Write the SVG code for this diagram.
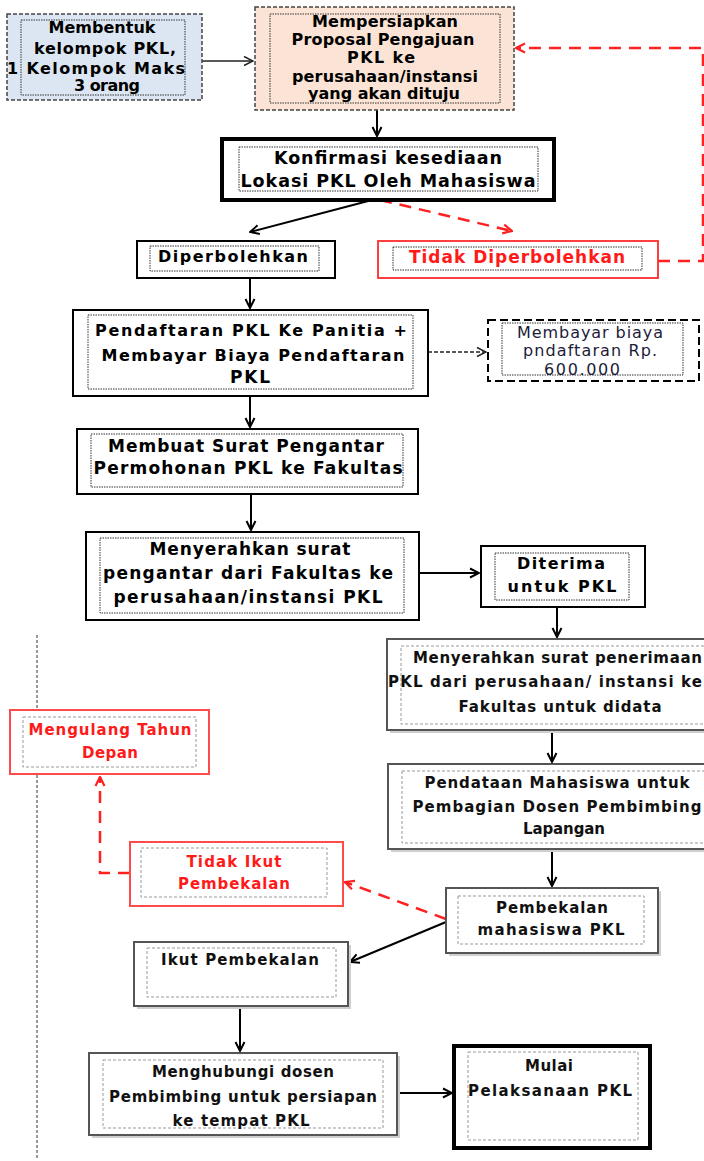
<svg xmlns="http://www.w3.org/2000/svg" width="704" height="1161" viewBox="0 0 704 1161">
<defs>
<style>
.t{font-family:"DejaVu Sans","Liberation Sans",sans-serif;font-weight:bold;fill:#000;text-anchor:middle;font-size:16px}
.s14{font-size:15px;fill:#111}
.s17{font-size:17px}
.s175{font-size:17.5px}
.red{fill:#ff1a1a}
.reg{font-weight:normal;fill:#1c1c3a;font-size:16px}
.box{fill:#fff;stroke:#000;stroke-width:2}
.thick{stroke-width:4}
.inner{fill:none;stroke:#333;stroke-width:1;stroke-dasharray:1.5 1}
.gbox{fill:#fff;stroke:#555;stroke-width:2}
.ginner{fill:none;stroke:#999;stroke-width:1;stroke-dasharray:3 2}
.rbox{fill:#fff;stroke:#ff4a4a;stroke-width:2}
.shadow{fill:#cfcfcf}
.c{fill:none;stroke:#000;stroke-width:2}
.cthin{fill:none;stroke:#222;stroke-width:1.3}
.cr{fill:none;stroke:#ff2020;stroke-width:2.5;stroke-dasharray:12 8}
</style>
<marker id="a" viewBox="0 0 12 12" refX="11" refY="6" markerWidth="12" markerHeight="12" orient="auto" markerUnits="userSpaceOnUse"><path d="M2,1.5 L11,6 L2,10.5" fill="none" stroke="#000" stroke-width="2"/></marker>
<marker id="at" viewBox="0 0 12 12" refX="11" refY="6" markerWidth="12" markerHeight="12" orient="auto" markerUnits="userSpaceOnUse"><path d="M2,1.5 L11,6 L2,10.5" fill="none" stroke="#222" stroke-width="1.4"/></marker>
<marker id="ar" viewBox="0 0 12 12" refX="11" refY="6" markerWidth="12" markerHeight="12" orient="auto" markerUnits="userSpaceOnUse"><path d="M2,1.5 L11,6 L2,10.5" fill="none" stroke="#ff2020" stroke-width="2.2"/></marker>
</defs>
<rect width="704" height="1161" fill="#fff"/>
<line x1="37" y1="635" x2="37" y2="1160" stroke="#777" stroke-width="1.5" stroke-dasharray="3 2"/>

<g id="connectors">
<path class="cthin" d="M202,61 L253,61" marker-end="url(#at)"/>
<path class="c" d="M377,110 L377,136" marker-end="url(#a)"/>
<path class="c" d="M372,200 L250,232" marker-end="url(#a)"/>
<path class="cr" d="M380,200 L512,231" marker-end="url(#ar)"/>
<path class="cr" d="M658,261 L703,261 L703,48 L516,48" marker-end="url(#ar)"/>
<path class="c" d="M250,278 L250,308" marker-end="url(#a)"/>
<path class="cthin" stroke-dasharray="4 2" d="M428,352 L486,352" marker-end="url(#at)"/>
<path class="c" d="M250,396 L250,427" marker-end="url(#a)"/>
<path class="c" d="M251,494 L251,530" marker-end="url(#a)"/>
<path class="c" d="M419,573 L479,573" marker-end="url(#a)"/>
<path class="c" d="M557,607 L557,637" marker-end="url(#a)"/>
<path class="c" d="M552,730 L552,762" marker-end="url(#a)"/>
<path class="c" d="M552,849 L552,886" marker-end="url(#a)"/>
<path class="c" d="M446,922 L350,962" marker-end="url(#a)"/>
<path class="cr" d="M446,919 L345,882" marker-end="url(#ar)"/>
<path class="cr" d="M130,873 L100,873 L100,777" marker-end="url(#ar)"/>
<path class="c" d="M240,1006 L240,1051" marker-end="url(#a)"/>
<path class="c" stroke-width="3" d="M397,1093 L452,1093" marker-end="url(#a)"/>
</g>

<g id="n1">
<rect x="7" y="14" width="195" height="86" fill="#dce6f2" stroke="#444" stroke-width="1.5" stroke-dasharray="4 2"/>
<rect class="inner" x="21" y="20" width="164" height="75"/>
<text class="t" x="102" y="33" textLength="107">Membentuk</text>
<text class="t" x="105" y="54" textLength="142">kelompok PKL,</text>
<text class="t" x="96" y="74" textLength="178">1 Kelompok Maks</text>
<text class="t" x="107" y="91" textLength="66">3 orang</text>
</g>

<g id="n2">
<rect x="255" y="7" width="259" height="103" fill="#fbe4d5" stroke="#444" stroke-width="1.5" stroke-dasharray="4 2"/>
<rect class="inner" x="270" y="14" width="230" height="89"/>
<text class="t" x="385" y="27" textLength="146">Mempersiapkan</text>
<text class="t" x="383" y="45" textLength="183">Proposal Pengajuan</text>
<text class="t" x="381" y="63" textLength="68">PKL ke</text>
<text class="t" x="385" y="82" textLength="186">perusahaan/instansi</text>
<text class="t" x="384" y="99" textLength="152">yang akan dituju</text>
</g>

<g id="n3">
<rect class="box thick" x="222" y="139" width="332" height="61"/>
<rect class="inner" x="239" y="147" width="299" height="44"/>
<text class="t s175" x="388" y="164" textLength="228">Konfirmasi kesediaan</text>
<text class="t s175" x="388" y="187" textLength="295">Lokasi PKL Oleh Mahasiswa</text>
</g>

<g id="n4">
<rect class="box" x="137" y="241" width="198" height="37"/>
<rect class="inner" x="150" y="246" width="169" height="25"/>
<text class="t" x="233" y="262" textLength="150">Diperbolehkan</text>
</g>

<g id="n5">
<rect x="378" y="241" width="280" height="37" fill="#fff" stroke="#ff2a2a" stroke-width="1.8"/>
<rect class="inner" x="393" y="247" width="249" height="23"/>
<text class="t s17 red" x="517" y="263" textLength="216">Tidak Diperbolehkan</text>
</g>

<g id="n6">
<rect class="box" x="73" y="310" width="355" height="86"/>
<rect class="inner" x="88" y="315" width="325" height="74"/>
<text class="t" x="251" y="336" textLength="312">Pendaftaran PKL Ke Panitia +</text>
<text class="t" x="253" y="361" textLength="303">Membayar Biaya Pendaftaran</text>
<text class="t s17" x="250" y="383" textLength="40">PKL</text>
</g>

<g id="n7">
<rect x="488" y="320" width="211" height="61" fill="#fff" stroke="#000" stroke-width="2" stroke-dasharray="8 4"/>
<rect class="inner" x="502" y="323" width="181" height="52"/>
<text class="t reg" x="590" y="338" textLength="146">Membayar biaya</text>
<text class="t reg" x="590" y="356" textLength="134">pndaftaran Rp.</text>
<text class="t reg" x="582" y="375" textLength="76">600.000</text>
</g>

<g id="n8">
<rect class="box" x="77" y="429" width="341" height="65"/>
<rect class="inner" x="91" y="434" width="312" height="53"/>
<text class="t s17" x="246" y="452" textLength="276">Membuat Surat Pengantar</text>
<text class="t s17" x="248" y="474" textLength="309">Permohonan PKL ke Fakultas</text>
</g>

<g id="n9">
<rect class="box" x="86" y="532" width="333" height="88"/>
<rect class="inner" x="100" y="538" width="304" height="75"/>
<text class="t s17" x="250" y="555" textLength="201">Menyerahkan surat</text>
<text class="t s17" x="248" y="579" textLength="290">pengantar dari Fakultas ke</text>
<text class="t s17" x="248" y="603" textLength="269">perusahaan/instansi PKL</text>
</g>

<g id="n10">
<rect class="box" x="481" y="546" width="164" height="61"/>
<rect class="inner" x="495" y="553" width="134" height="47"/>
<text class="t" x="561" y="569" textLength="88">Diterima</text>
<text class="t" x="562" y="592" textLength="109">untuk PKL</text>
</g>

<g id="n11">
<rect class="shadow" x="390" y="642" width="340" height="91"/>
<rect class="gbox" x="387" y="639" width="340" height="91"/>
<rect class="ginner" x="401" y="646" width="312" height="78"/>
<text class="t s14" x="413" y="663" textLength="289" style="text-anchor:start">Menyerahkan surat penerimaan</text>
<text class="t s14" x="388" y="687" textLength="314" style="text-anchor:start">PKL dari perusahaan/ instansi ke</text>
<text class="t s14" x="560" y="712" textLength="203">Fakultas untuk didata</text>
</g>

<g id="n12">
<rect class="shadow" x="391" y="767" width="340" height="85"/>
<rect class="gbox" x="388" y="764" width="340" height="85"/>
<rect class="ginner" x="402" y="771" width="312" height="72"/>
<text class="t s14" x="557" y="788" textLength="265">Pendataan Mahasiswa untuk</text>
<text class="t s14" x="557" y="812" textLength="289">Pembagian Dosen Pembimbing</text>
<text class="t s14" x="564" y="834" textLength="82">Lapangan</text>
</g>

<g id="n13">
<rect class="shadow" x="449" y="891" width="212" height="65"/>
<rect class="gbox" x="446" y="888" width="212" height="65"/>
<rect class="ginner" x="458" y="896" width="186" height="48"/>
<text class="t s14" x="552" y="913" textLength="112">Pembekalan</text>
<text class="t s14" x="551" y="935" textLength="147">mahasiswa PKL</text>
</g>

<g id="n14">
<rect class="rbox" x="130" y="842" width="213" height="64"/>
<rect class="ginner" x="141" y="848" width="186" height="49"/>
<text class="t s14 red" x="234" y="867" textLength="95">Tidak Ikut</text>
<text class="t s14 red" x="234" y="889" textLength="112">Pembekalan</text>
</g>

<g id="n15">
<rect class="rbox" x="10" y="710" width="199" height="64"/>
<rect class="ginner" x="23" y="717" width="173" height="50"/>
<text class="t s14 red" x="110" y="735" textLength="163">Mengulang Tahun</text>
<text class="t s14 red" x="110" y="758" textLength="56">Depan</text>
</g>

<g id="n16">
<rect class="shadow" x="137" y="945" width="214" height="64"/>
<rect class="gbox" x="134" y="942" width="214" height="64"/>
<rect class="ginner" x="147" y="948" width="189" height="49"/>
<text class="t s14" x="240" y="965" textLength="158">Ikut Pembekalan</text>
</g>

<g id="n17">
<rect class="shadow" x="92" y="1056" width="308" height="82"/>
<rect class="gbox" x="89" y="1053" width="308" height="82"/>
<rect class="ginner" x="103" y="1060" width="280" height="68"/>
<text class="t s14" x="243" y="1077" textLength="182">Menghubungi dosen</text>
<text class="t s14" x="243" y="1102" textLength="268">Pembimbing untuk persiapan</text>
<text class="t s14" x="241" y="1126" textLength="137">ke tempat PKL</text>
</g>

<g id="n18">
<rect class="box thick" x="454" y="1046" width="196" height="102"/>
<rect class="ginner" x="468" y="1052" width="170" height="88"/>
<text class="t s14" x="549" y="1071" textLength="48">Mulai</text>
<text class="t s14" x="550" y="1096" textLength="164">Pelaksanaan PKL</text>
</g>
</svg>
